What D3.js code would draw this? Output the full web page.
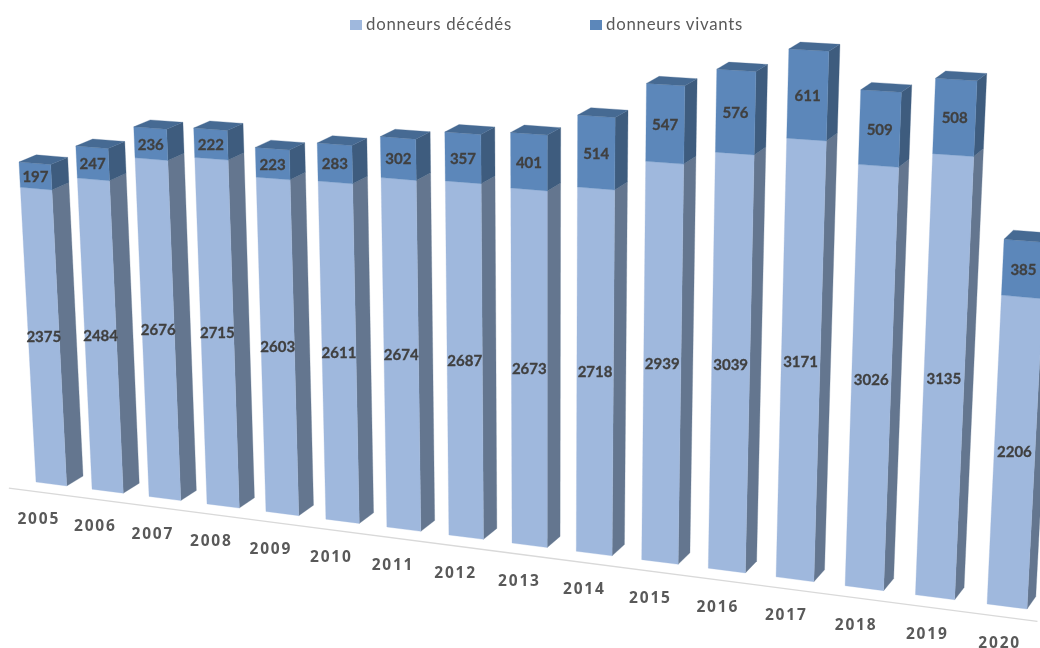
<!DOCTYPE html>
<html lang="fr">
<head>
<meta charset="utf-8">
<script src="https://cdn.jsdelivr.net/npm/d3@7"></script>
<style>
  html, body { margin: 0; background: #fff; }
  svg { display: block; filter: blur(0.4px); }
</style>
</head>
<body>
<div id="chart"></div>
<script>
const years = [2005, 2006, 2007, 2008, 2009, 2010, 2011, 2012, 2013, 2014, 2015, 2016, 2017, 2018, 2019, 2020];
const deceased = [2375, 2484, 2676, 2715, 2603, 2611, 2674, 2687, 2673, 2718, 2939, 3039, 3171, 3026, 3135, 2206];
const living = [197, 247, 236, 222, 223, 283, 302, 357, 401, 514, 547, 576, 611, 509, 508, 385];
const legendLabels = ["donneurs décédés", "donneurs vivants"];

const width = 1040;
const height = 648;

// Scales go to "world" units, the camera below turns them into pixels
const x = d3
  .scaleBand()
  .domain(years)
  .range([0, 15.55])
  .paddingInner(0.45)
  .paddingOuter(0);

const y = d3.scaleLinear().domain([0, 4000]).range([0, 4]);

// Camera matrix of the tilted 3D view (u: along axis, v: height, d: depth)
function project(u, v, d) {
  const w = 1 - 0.00821 * u - 0.01255 * v + 0.00902 * d;
  return [
    (36 + 55.3 * u - 6.85 * v + 17 * d) / w,
    (482 + 3.17 * u - 126.45 * v - 5.5 * d) / w,
  ];
}

const svg = d3
  .select("#chart")
  .append("svg")
  .attr("width", width)
  .attr("height", height);

// Ligne de l'axe
const axisLine = d3
  .line()
  .x((d) => d[0])
  .y((d) => d[1]);

svg
  .append("path")
  .attr("d", axisLine([project(-0.5, -0.08, 0), project(15.7, -0.08, 0)]))
  .style("fill", "none")
  .style("stroke", "#d9d9d9")
  .style("stroke-width", 1.3);

const polygon = (points) => points.map((p) => p.join(",")).join(" ");

const stacks = [
  {
    values: deceased,
    base: () => 0,
    front: "#9fb8dd",
    side: "#64768f",
    labelShift: -3,
  },
  {
    values: living,
    base: (i) => deceased[i],
    front: "#5c87ba",
    side: "#3e5c7e",
    labelShift: 0,
  },
];

const bars = svg
  .selectAll(".bar")
  .data(years)
  .enter()
  .append("g")
  .attr("class", "bar");

stacks.forEach((stack) => {
  const u0 = (yr) => x(yr);
  const u1 = (yr) => x(yr) + x.bandwidth();
  const v0 = (yr, i) => y(stack.base(i));
  const v1 = (yr, i) => y(stack.base(i) + stack.values[i]);

  // Face latérale
  bars
    .append("polygon")
    .attr("points", (yr, i) =>
      polygon([
        project(u1(yr), v0(yr, i), 0),
        project(u1(yr), v0(yr, i), 1),
        project(u1(yr), v1(yr, i), 1),
        project(u1(yr), v1(yr, i), 0),
      ])
    )
    .style("fill", stack.side)
    .style("stroke", stack.side)
    .style("stroke-width", 0.3);

  // Face avant
  bars
    .append("polygon")
    .attr("points", (yr, i) =>
      polygon([
        project(u0(yr), v0(yr, i), 0),
        project(u1(yr), v0(yr, i), 0),
        project(u1(yr), v1(yr, i), 0),
        project(u0(yr), v1(yr, i), 0),
      ])
    )
    .style("fill", stack.front)
    .style("stroke", stack.front)
    .style("stroke-width", 0.3);
});

// Dessus de la colonne
bars
  .append("polygon")
  .attr("points", (yr, i) => {
    const top = y(deceased[i] + living[i]);
    return polygon([
      project(x(yr), top, 0),
      project(x(yr) + x.bandwidth(), top, 0),
      project(x(yr) + x.bandwidth(), top, 1),
      project(x(yr), top, 1),
    ]);
  })
  .style("fill", "#466a93")
  .style("stroke", "#466a93")
  .style("stroke-width", 0.3);

// Étiquettes de valeurs
stacks.forEach((stack) => {
  svg
    .selectAll(null)
    .data(years)
    .enter()
    .append("text")
    .each(function (yr, i) {
      const p = project(
        x(yr) + x.bandwidth() / 2,
        y(stack.base(i) + stack.values[i] / 2),
        0
      );
      d3.select(this).attr("x", p[0]).attr("y", p[1] + stack.labelShift);
    })
    .attr("text-anchor", "middle")
    .attr("dominant-baseline", "central")
    .style("font-family", "Lato, sans-serif")
    .style("font-weight", 700)
    .style("font-size", "15px")
    .style("fill", "#404040")
    .style("stroke", "#404040")
    .style("stroke-width", 0.3)
    .text((yr, i) => stack.values[i]);
});

// Années (the labels sit on a slightly flatter line than the axis)
const yearShift = d3.scaleLinear().domain([2005, 2020]).range([3, -1]);

svg
  .selectAll(".year")
  .data(years)
  .enter()
  .append("text")
  .attr("class", "year")
  .each(function (yr) {
    const p = project(x(yr) + x.bandwidth() / 2, -0.175, -1);
    d3.select(this).attr("x", p[0] + 3).attr("y", p[1] + yearShift(yr));
  })
  .attr("text-anchor", "middle")
  .attr("dominant-baseline", "central")
  .style("font-family", "'Open Sans', sans-serif")
  .style("font-weight", 700)
  .style("font-size", "15.5px")
  .style("letter-spacing", "1.8px")
  .style("fill", "#595959")
  .text((yr) => yr);

// Légende
const legendX = d3.scalePoint().domain(legendLabels).range([350, 590]);

const legend = svg
  .selectAll(".legend")
  .data(legendLabels)
  .enter()
  .append("g")
  .attr("class", "legend")
  .attr("transform", (d) => `translate(${legendX(d)}, 20)`);

legend
  .append("rect")
  .attr("width", 12)
  .attr("height", 10)
  .style("fill", (d, i) => stacks[i].front);

legend
  .append("text")
  .attr("x", 16)
  .attr("y", 10)
  .style("font-family", "Lato, sans-serif")
  .style("font-size", "16.8px")
  .style("letter-spacing", "0.75px")
  .style("fill", "#595959")
  .text((d) => d);
</script>
</body>
</html>
